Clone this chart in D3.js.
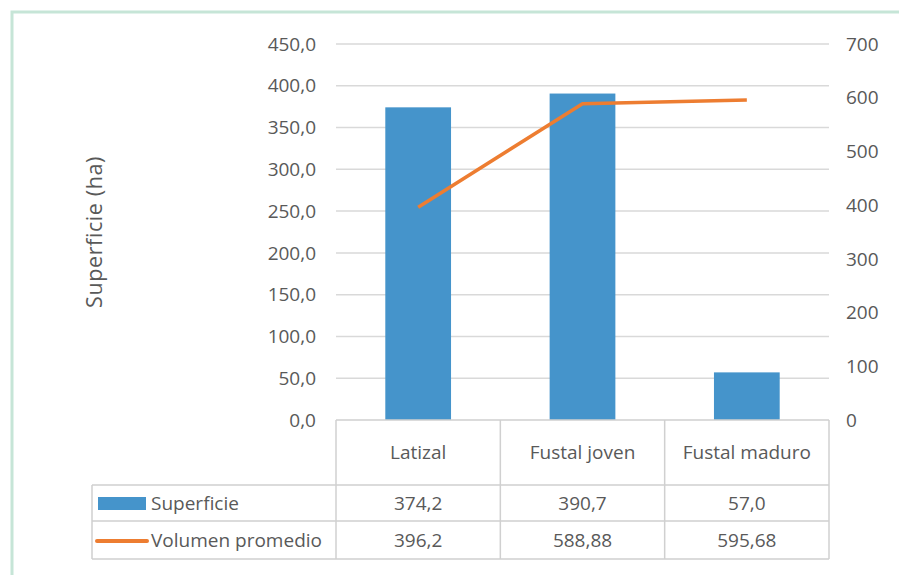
<!DOCTYPE html>
<html>
<head>
<meta charset="utf-8" />
<title>Superficie y volumen</title>
<script src="https://d3js.org/d3.v7.min.js"></script>
<style>
  body { margin: 0; background: #fff; }
  text { font-family: "Open Sans", "Noto Sans", sans-serif; fill: #595959; }
</style>
</head>
<body>
<svg id="chart" width="899" height="575"></svg>
<script>
// data
var categories = ["Latizal", "Fustal joven", "Fustal maduro"];
var superficie = [374.2, 390.7, 57.0];
var volumen = [396.2, 588.88, 595.68];
var superficieLabels = ["374,2", "390,7", "57,0"];
var volumenLabels = ["396,2", "588,88", "595,68"];
var leftTicks = [0, 50, 100, 150, 200, 250, 300, 350, 400, 450];
var rightTicks = [0, 100, 200, 300, 400, 500, 600, 700];

var blue = "#4594cb", orange = "#ed7d31", grid = "#d9d9d9";
var fs = 19;

var svg = d3.select("#chart");

// outer frame
svg.append("path")
  .attr("d", "M12,575 L12,12 L899,12")
  .attr("fill", "none")
  .attr("stroke", "#c6e5d7")
  .attr("stroke-width", 3);

var plotL = 336, plotR = 829, plotT = 44, plotB = 420;

var x = d3.scaleBand().domain(categories).range([plotL, plotR]).paddingInner(0.6).paddingOuter(0.3);
var xc = d3.scaleBand().domain(categories).range([plotL, plotR]);
var yL = d3.scaleLinear().domain([0, 450]).range([plotB, plotT]);
var yR = d3.scaleLinear().domain([0, 700]).range([plotB, plotT]);

// gridlines
svg.append("g").selectAll("line")
  .data(leftTicks.slice(1))
  .enter().append("line")
  .attr("x1", plotL).attr("x2", plotR)
  .attr("y1", function(d){ return yL(d); })
  .attr("y2", function(d){ return yL(d); })
  .attr("stroke", grid).attr("stroke-width", 1.5);

// left axis labels
svg.append("g").selectAll("text")
  .data(leftTicks)
  .enter().append("text")
  .attr("x", 316)
  .attr("y", function(d){ return yL(d); })
  .attr("dy", "0.35em")
  .attr("text-anchor", "end")
  .attr("font-size", fs)
  .text(function(d){ return d3.format(".1f")(d).replace(".", ","); });

// right axis labels
svg.append("g").selectAll("text")
  .data(rightTicks)
  .enter().append("text")
  .attr("x", 846)
  .attr("y", function(d){ return yR(d); })
  .attr("dy", "0.35em")
  .attr("font-size", fs)
  .text(function(d){ return d; });

// y title
svg.append("text")
  .attr("transform", "translate(102,232) rotate(-90)")
  .attr("text-anchor", "middle")
  .attr("font-size", 21.5)
  .attr("letter-spacing", 0.6)
  .text("Superficie (ha)");

// bars
svg.append("g").selectAll("rect")
  .data(superficie)
  .enter().append("rect")
  .attr("x", function(d, i){ return x(categories[i]); })
  .attr("width", x.bandwidth())
  .attr("y", function(d){ return yL(d); })
  .attr("height", function(d){ return plotB - yL(d); })
  .attr("fill", blue);

// line
var line = d3.line()
  .x(function(d, i){ return xc(categories[i]) + xc.bandwidth() / 2; })
  .y(function(d){ return yR(d); });

svg.append("path")
  .datum(volumen)
  .attr("d", line)
  .attr("fill", "none")
  .attr("stroke", orange)
  .attr("stroke-width", 3.5)
  .attr("stroke-linejoin", "round");

// data table
var tableLeft = 92, r0 = 420, r1 = 485, r2 = 521, r3 = 559;
var tbl = svg.append("g").attr("stroke", "#d0d0d0").attr("stroke-width", 1.5).attr("fill", "none");
tbl.append("path").attr("d",
  "M" + plotL + "," + r0 + " L" + plotR + "," + r0 +
  " M" + tableLeft + "," + r1 + " L" + plotR + "," + r1 +
  " M" + tableLeft + "," + r2 + " L" + plotR + "," + r2 +
  " M" + tableLeft + "," + r3 + " L" + plotR + "," + r3 +
  " M" + tableLeft + "," + r1 + " L" + tableLeft + "," + r3);
tbl.selectAll("line.col")
  .data(categories.concat(["end"]))
  .enter().append("line")
  .attr("x1", function(d, i){ return i < 3 ? xc(d) : plotR; })
  .attr("x2", function(d, i){ return i < 3 ? xc(d) : plotR; })
  .attr("y1", r0).attr("y2", r3);

svg.append("g").selectAll("text")
  .data(categories)
  .enter().append("text")
  .attr("x", function(d){ return xc(d) + xc.bandwidth() / 2; })
  .attr("y", (r0 + r1) / 2)
  .attr("dy", "0.35em")
  .attr("text-anchor", "middle")
  .attr("font-size", fs)
  .text(function(d){ return d; });

[superficieLabels, volumenLabels].forEach(function(row, j){
  svg.append("g").selectAll("text")
    .data(row)
    .enter().append("text")
    .attr("x", function(d, i){ return xc(categories[i]) + xc.bandwidth() / 2; })
    .attr("y", j == 0 ? (r1 + r2) / 2 : (r2 + r3) / 2)
    .attr("dy", "0.35em")
    .attr("text-anchor", "middle")
    .attr("font-size", fs)
    .text(function(d){ return d; });
});

// legend keys in table
svg.append("rect").attr("x", 98).attr("y", 497).attr("width", 48).attr("height", 13).attr("fill", blue);
svg.append("line").attr("x1", 97).attr("x2", 147).attr("y1", 541).attr("y2", 541)
  .attr("stroke", orange).attr("stroke-width", 4).attr("stroke-linecap", "round");
svg.append("text").attr("x", 151).attr("y", (r1 + r2) / 2).attr("dy", "0.35em").attr("font-size", fs).text("Superficie");
svg.append("text").attr("x", 151).attr("y", (r2 + r3) / 2).attr("dy", "0.35em").attr("font-size", fs).text("Volumen promedio");
</script>
</body>
</html>
